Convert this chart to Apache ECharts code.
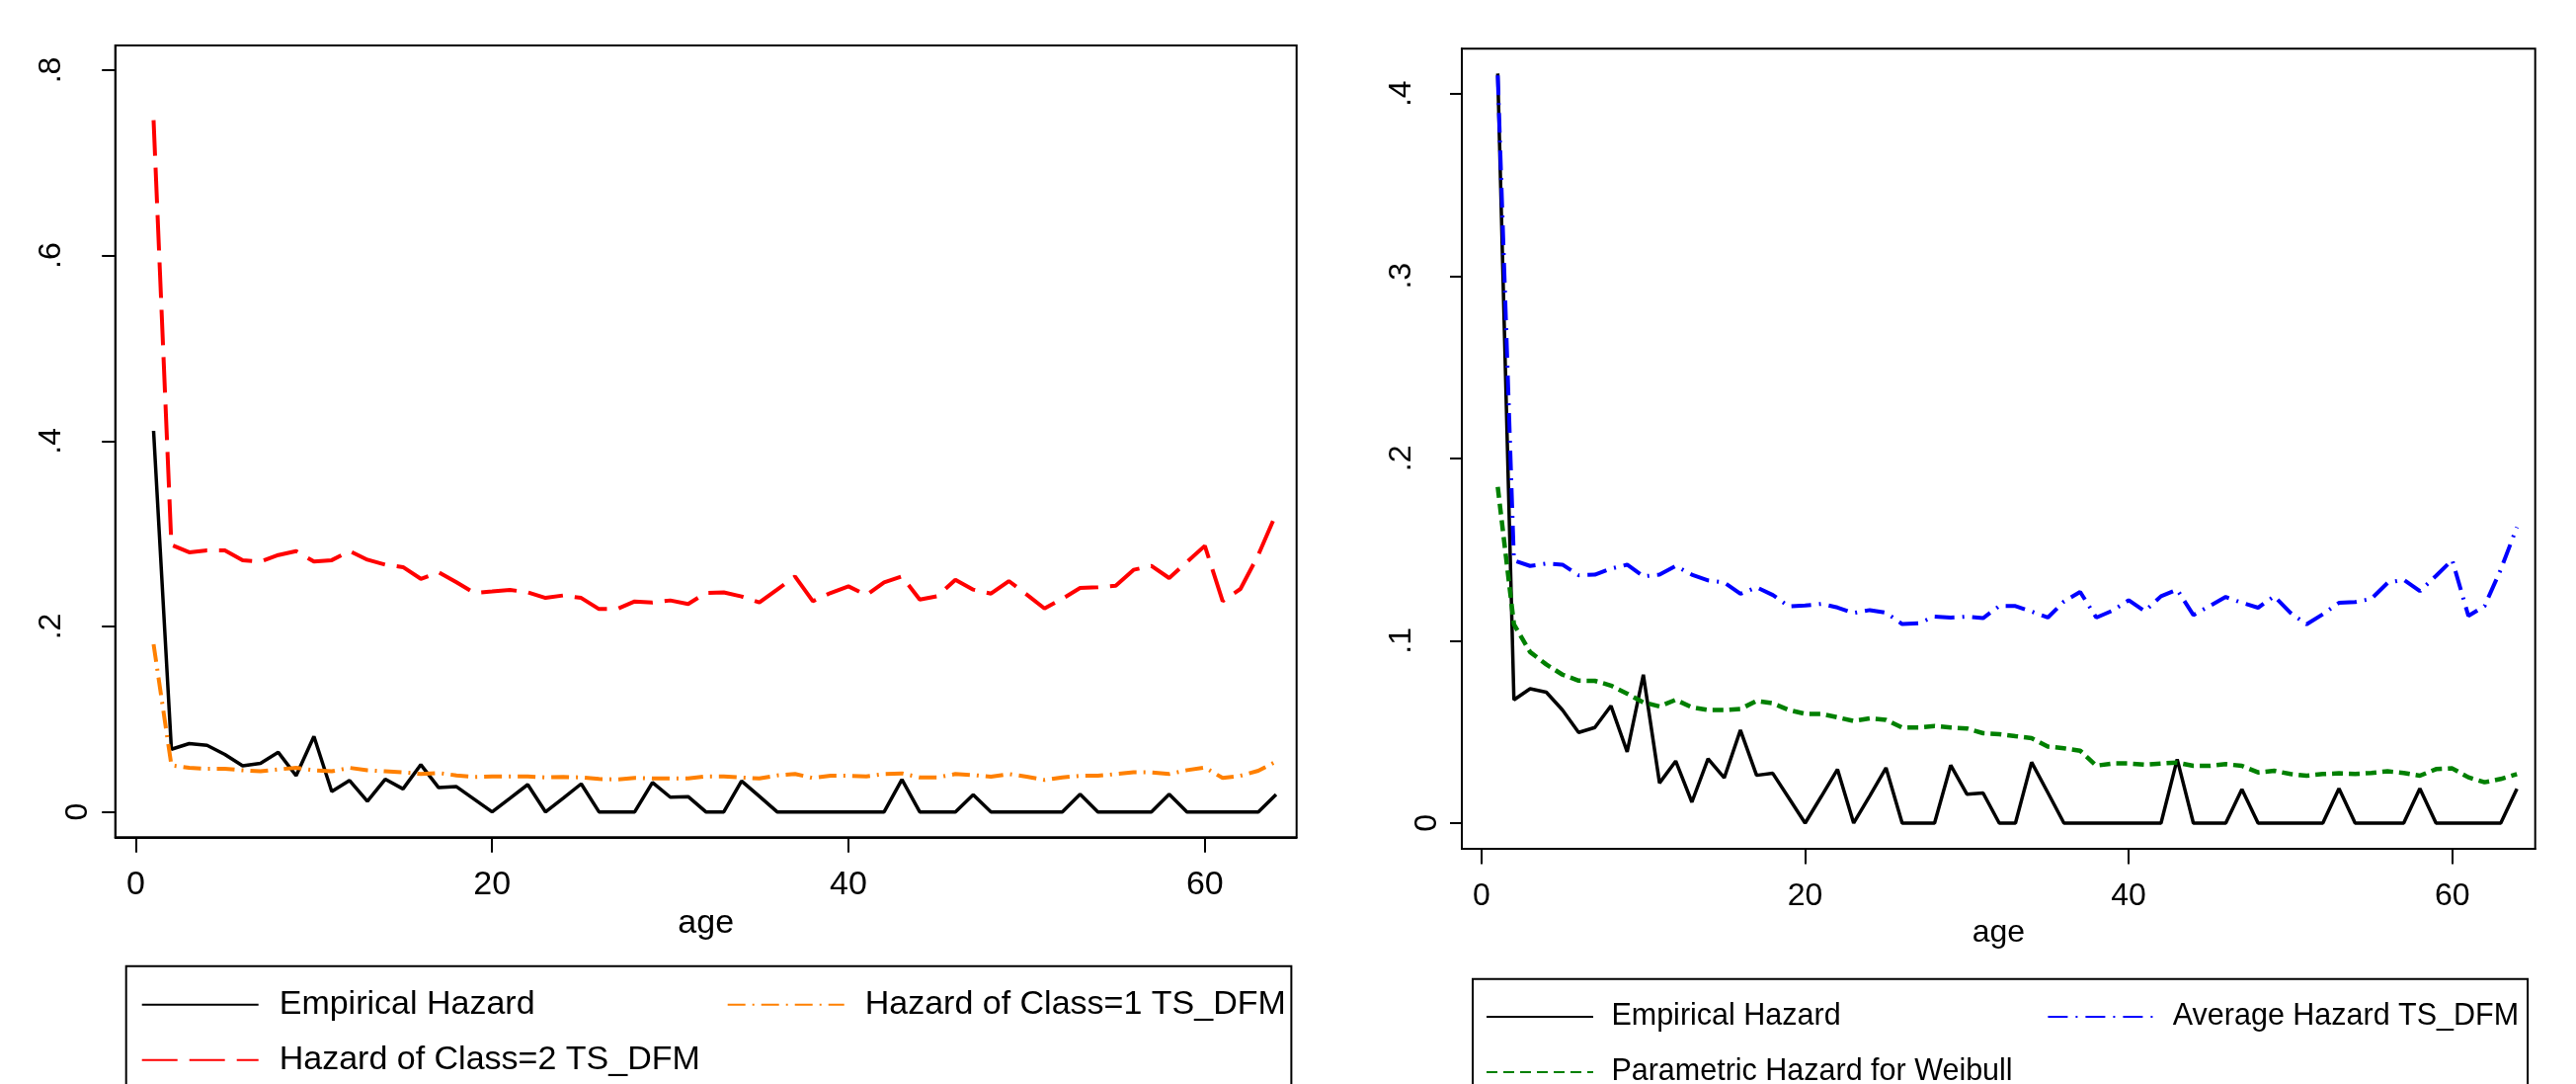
<!DOCTYPE html>
<html>
<head>
<meta charset="utf-8">
<script src="https://cdn.jsdelivr.net/npm/echarts@6/dist/echarts.min.js"></script>
<style>
html,body{margin:0;padding:0;background:#fff;}
#chart{width:2608px;height:1097px;}
</style>
</head>
<body>
<div id="chart"></div>
<script>
const ages = [1,2,3,4,5,6,7,8,9,10,11,12,13,14,15,16,17,18,19,20,21,22,23,24,25,26,27,28,29,30,31,32,33,34,35,36,37,38,39,40,41,42,43,44,45,46,47,48,49,50,51,52,53,54,55,56,57,58,59,60,61,62,63,64];

const empirical = [0.411,0.0676,0.0737,0.0718,0.062,0.0497,0.0524,0.0643,0.0391,0.0814,0.022,0.034,0.0115,0.0353,0.0248,0.051,0.0262,0.0273,0.0137,0,0.0146,0.0295,0,0.015,0.0303,0,0,0,0.0317,0.0159,0.0165,0,0,0.0334,0.0168,0,0,0,0,0,0,0,0.035,0,0,0,0.0185,0,0,0,0,0,0.019,0,0,0,0,0.019,0,0,0,0,0,0.0188];

const class2 = [0.746,0.288,0.280,0.282,0.282,0.2715,0.270,0.277,0.2813,0.270,0.2715,0.2813,0.272,0.2667,0.264,0.2514,0.2585,0.2476,0.2362,0.2378,0.2395,0.2368,0.2308,0.2335,0.2308,0.2188,0.2188,0.227,0.2259,0.2281,0.2243,0.2362,0.2368,0.2324,0.2259,0.2398,0.254,0.2273,0.2362,0.2433,0.2338,0.2476,0.254,0.2291,0.2327,0.2504,0.2398,0.2355,0.249,0.2345,0.2195,0.2299,0.2415,0.2423,0.244,0.2611,0.2654,0.2522,0.2696,0.287,0.2273,0.2405,0.2771,0.3215];

const class1 = [0.1808,0.0503,0.0476,0.0465,0.0465,0.0449,0.0438,0.0459,0.0476,0.0449,0.0438,0.0476,0.0449,0.0438,0.0427,0.041,0.0421,0.0394,0.0378,0.0383,0.0383,0.0383,0.0372,0.0378,0.0372,0.0356,0.035,0.0367,0.0361,0.0361,0.0361,0.0383,0.0383,0.0372,0.0361,0.0394,0.0409,0.0366,0.039,0.039,0.0384,0.0409,0.0416,0.0373,0.0373,0.0409,0.0398,0.038,0.0409,0.038,0.0345,0.0373,0.039,0.039,0.0409,0.0427,0.0427,0.0409,0.0451,0.048,0.0366,0.039,0.0444,0.0544];

const averageTS = [0.41,0.144,0.141,0.1423,0.1417,0.1359,0.1362,0.1395,0.1417,0.1353,0.1362,0.141,0.1362,0.1331,0.132,0.1257,0.1293,0.1251,0.1188,0.1193,0.1202,0.1182,0.1152,0.1168,0.1154,0.1091,0.1096,0.1132,0.1127,0.1132,0.1124,0.119,0.119,0.116,0.1127,0.1215,0.1268,0.1127,0.1165,0.1222,0.1162,0.1244,0.128,0.1141,0.119,0.124,0.1208,0.1181,0.1244,0.1153,0.109,0.1145,0.1208,0.1212,0.123,0.1317,0.1335,0.1272,0.1356,0.1443,0.1136,0.119,0.139,0.1623];

const weibull = [0.1843,0.109,0.0938,0.087,0.0814,0.0781,0.078,0.0754,0.071,0.0662,0.064,0.0676,0.0635,0.062,0.062,0.0626,0.067,0.0657,0.062,0.0599,0.0599,0.058,0.056,0.0574,0.0566,0.0524,0.0524,0.0532,0.0524,0.0519,0.0493,0.0488,0.0477,0.0466,0.042,0.041,0.0397,0.0315,0.0327,0.0327,0.032,0.0327,0.0332,0.0314,0.0314,0.0323,0.0314,0.0278,0.0287,0.0269,0.026,0.0269,0.0273,0.0269,0.0275,0.0284,0.0275,0.026,0.0296,0.03,0.0251,0.0224,0.0242,0.0269];

const xTicks = [0, 20, 40, 60];
const yTicksLeft = [0, 0.2, 0.4, 0.6, 0.8];
const yTicksRight = [0, 0.1, 0.2, 0.3, 0.4];

const names = {
  emp: 'Empirical Hazard',
  c2: 'Hazard of Class=2 TS_DFM',
  c1: 'Hazard of Class=1 TS_DFM',
  avg: 'Average Hazard TS_DFM',
  wei: 'Parametric Hazard for Weibull'
};

const SANS = "'Liberation Sans', Arial, Helvetica, sans-serif";

function pairs(vals) { return ages.map((a, i) => [a, vals[i]]); }
function fmtY(v) { return v === 0 ? '0' : String(+v.toFixed(2)).replace(/^0/, ''); }

function xAxisCfg(gridIndex, min, max, fs, margin, nameGap) {
  return {
    type: 'value', gridIndex, min, max,
    name: 'age', nameLocation: 'middle', nameGap,
    nameTextStyle: { fontFamily: SANS, fontSize: fs, color: '#000' },
    axisLine: { show: true, onZero: false, lineStyle: { color: '#000', width: 2 } },
    axisTick: { show: true, length: 15.5, customValues: xTicks, lineStyle: { color: '#000', width: 2 } },
    axisLabel: { show: true, customValues: xTicks, margin, fontFamily: SANS, fontSize: fs, color: '#000' },
    splitLine: { show: false }
  };
}
function yAxisCfg(gridIndex, min, max, ticks, labels, margin, tickLen, showTick) {
  return {
    type: 'value', gridIndex, min, max, position: 'left',
    axisLine: { show: showTick, onZero: false, lineStyle: { color: '#000', width: 2 } },
    axisTick: { show: showTick, length: tickLen, customValues: ticks, lineStyle: { color: '#000', width: 2 } },
    axisLabel: { show: true, customValues: labels, rotate: 90, margin, fontFamily: SANS, fontSize: 32, color: '#000', formatter: fmtY },
    splitLine: { show: false }
  };
}

const chart = echarts.init(document.getElementById('chart'), null, { renderer: 'canvas' });

const option = {
  backgroundColor: '#ffffff',
  animation: false,
  grid: [
    { left: 116.7, top: 46, width: 1196, height: 801.3, show: true, borderColor: '#000', borderWidth: 2, backgroundColor: 'transparent' },
    { left: 1480, top: 49.3, width: 1086.7, height: 809.7, show: true, borderColor: '#000', borderWidth: 2, backgroundColor: 'transparent' }
  ],
  xAxis: [
    xAxisCfg(0, -1.15, 65.15, 34, 31, 64),
    xAxisCfg(1, -1.22, 65.13, 32, 32, 68)
  ],
  yAxis: [
    yAxisCfg(0, -0.0273, 0.8266, yTicksLeft, yTicksLeft.slice(1), 49, 13.5, true),
    yAxisCfg(0, -0.0273, 0.8266, yTicksLeft, [0], 22, 13.5, false),
    yAxisCfg(1, -0.0141, 0.4246, yTicksRight, yTicksRight.slice(1), 45, 12, true),
    yAxisCfg(1, -0.0141, 0.4246, yTicksRight, [0], 19, 12, false)
  ],
  legend: [
    {
      orient: 'vertical', left: 127.7, top: 977.7, height: 110,
      padding: [19, 5.6, 30, 15], itemGap: 16, itemWidth: 118, itemHeight: 40,
      borderColor: '#000', borderWidth: 2, backgroundColor: '#fff',
      itemStyle: { opacity: 0, borderWidth: 0 },
      data: [names.emp, names.c2, names.c1],
      formatter: n => (n === names.c1 ? '{b|' : '{a|') + n + '}',
      textStyle: {
        fontFamily: SANS, fontSize: 34, lineHeight: 40, color: '#000',
        rich: {
          a: { width: 437, height: 40, padding: [0, 0, 0, 16], fontFamily: SANS, fontSize: 34, lineHeight: 40, color: '#000' },
          b: { width: 421, height: 40, padding: [0, 0, 0, 16], fontFamily: SANS, fontSize: 34, lineHeight: 40, color: '#000' }
        }
      }
    },
    {
      orient: 'vertical', left: 1491, top: 990.7, height: 110,
      padding: [18.3, 6.3, 30, 13], itemGap: 16, itemWidth: 108, itemHeight: 40,
      borderColor: '#000', borderWidth: 2, backgroundColor: '#fff',
      itemStyle: { opacity: 0, borderWidth: 0 },
      data: [names.emp, names.wei, names.avg],
      formatter: n => (n === names.avg ? '{b|' : '{a|') + n + '}',
      textStyle: {
        fontFamily: SANS, fontSize: 30.5, lineHeight: 40, color: '#000',
        rich: {
          a: { width: 425, height: 40, padding: [0, 0, 0, 13.4], fontFamily: SANS, fontSize: 30.5, lineHeight: 40, color: '#000' },
          b: { width: 353, height: 40, padding: [0, 0, 0, 13.4], fontFamily: SANS, fontSize: 30.5, lineHeight: 40, color: '#000' }
        }
      }
    }
  ],
  series: [
    { name: names.emp, type: 'line', xAxisIndex: 0, yAxisIndex: 0, data: pairs(empirical), symbol: 'none', lineStyle: { color: '#000', width: 3.5, type: 'solid' }, itemStyle: { color: '#000' }, z: 2 },
    { name: names.c2, type: 'line', xAxisIndex: 0, yAxisIndex: 0, data: pairs(class2), symbol: 'none', lineStyle: { color: '#ff0000', width: 4, type: [36, 12] }, itemStyle: { color: '#ff0000' }, z: 3 },
    { name: names.c1, type: 'line', xAxisIndex: 0, yAxisIndex: 0, data: pairs(class1), symbol: 'none', lineStyle: { color: '#ff8000', width: 4, type: [18, 7, 2, 7] }, itemStyle: { color: '#ff8000' }, z: 4 },
    { name: names.emp, type: 'line', xAxisIndex: 1, yAxisIndex: 2, data: pairs(empirical), symbol: 'none', lineStyle: { color: '#000', width: 3.5, type: 'solid' }, itemStyle: { color: '#000' }, z: 2 },
    { name: names.wei, type: 'line', xAxisIndex: 1, yAxisIndex: 2, data: pairs(weibull), symbol: 'none', lineStyle: { color: '#008000', width: 4.5, type: [11, 6] }, itemStyle: { color: '#008000' }, z: 3 },
    { name: names.avg, type: 'line', xAxisIndex: 1, yAxisIndex: 2, data: pairs(averageTS), symbol: 'none', lineStyle: { color: '#0000ff', width: 4, type: [20, 8, 2, 8] }, itemStyle: { color: '#0000ff' }, z: 4 }
  ]
};
chart.setOption(option);
</script>
</body>
</html>
